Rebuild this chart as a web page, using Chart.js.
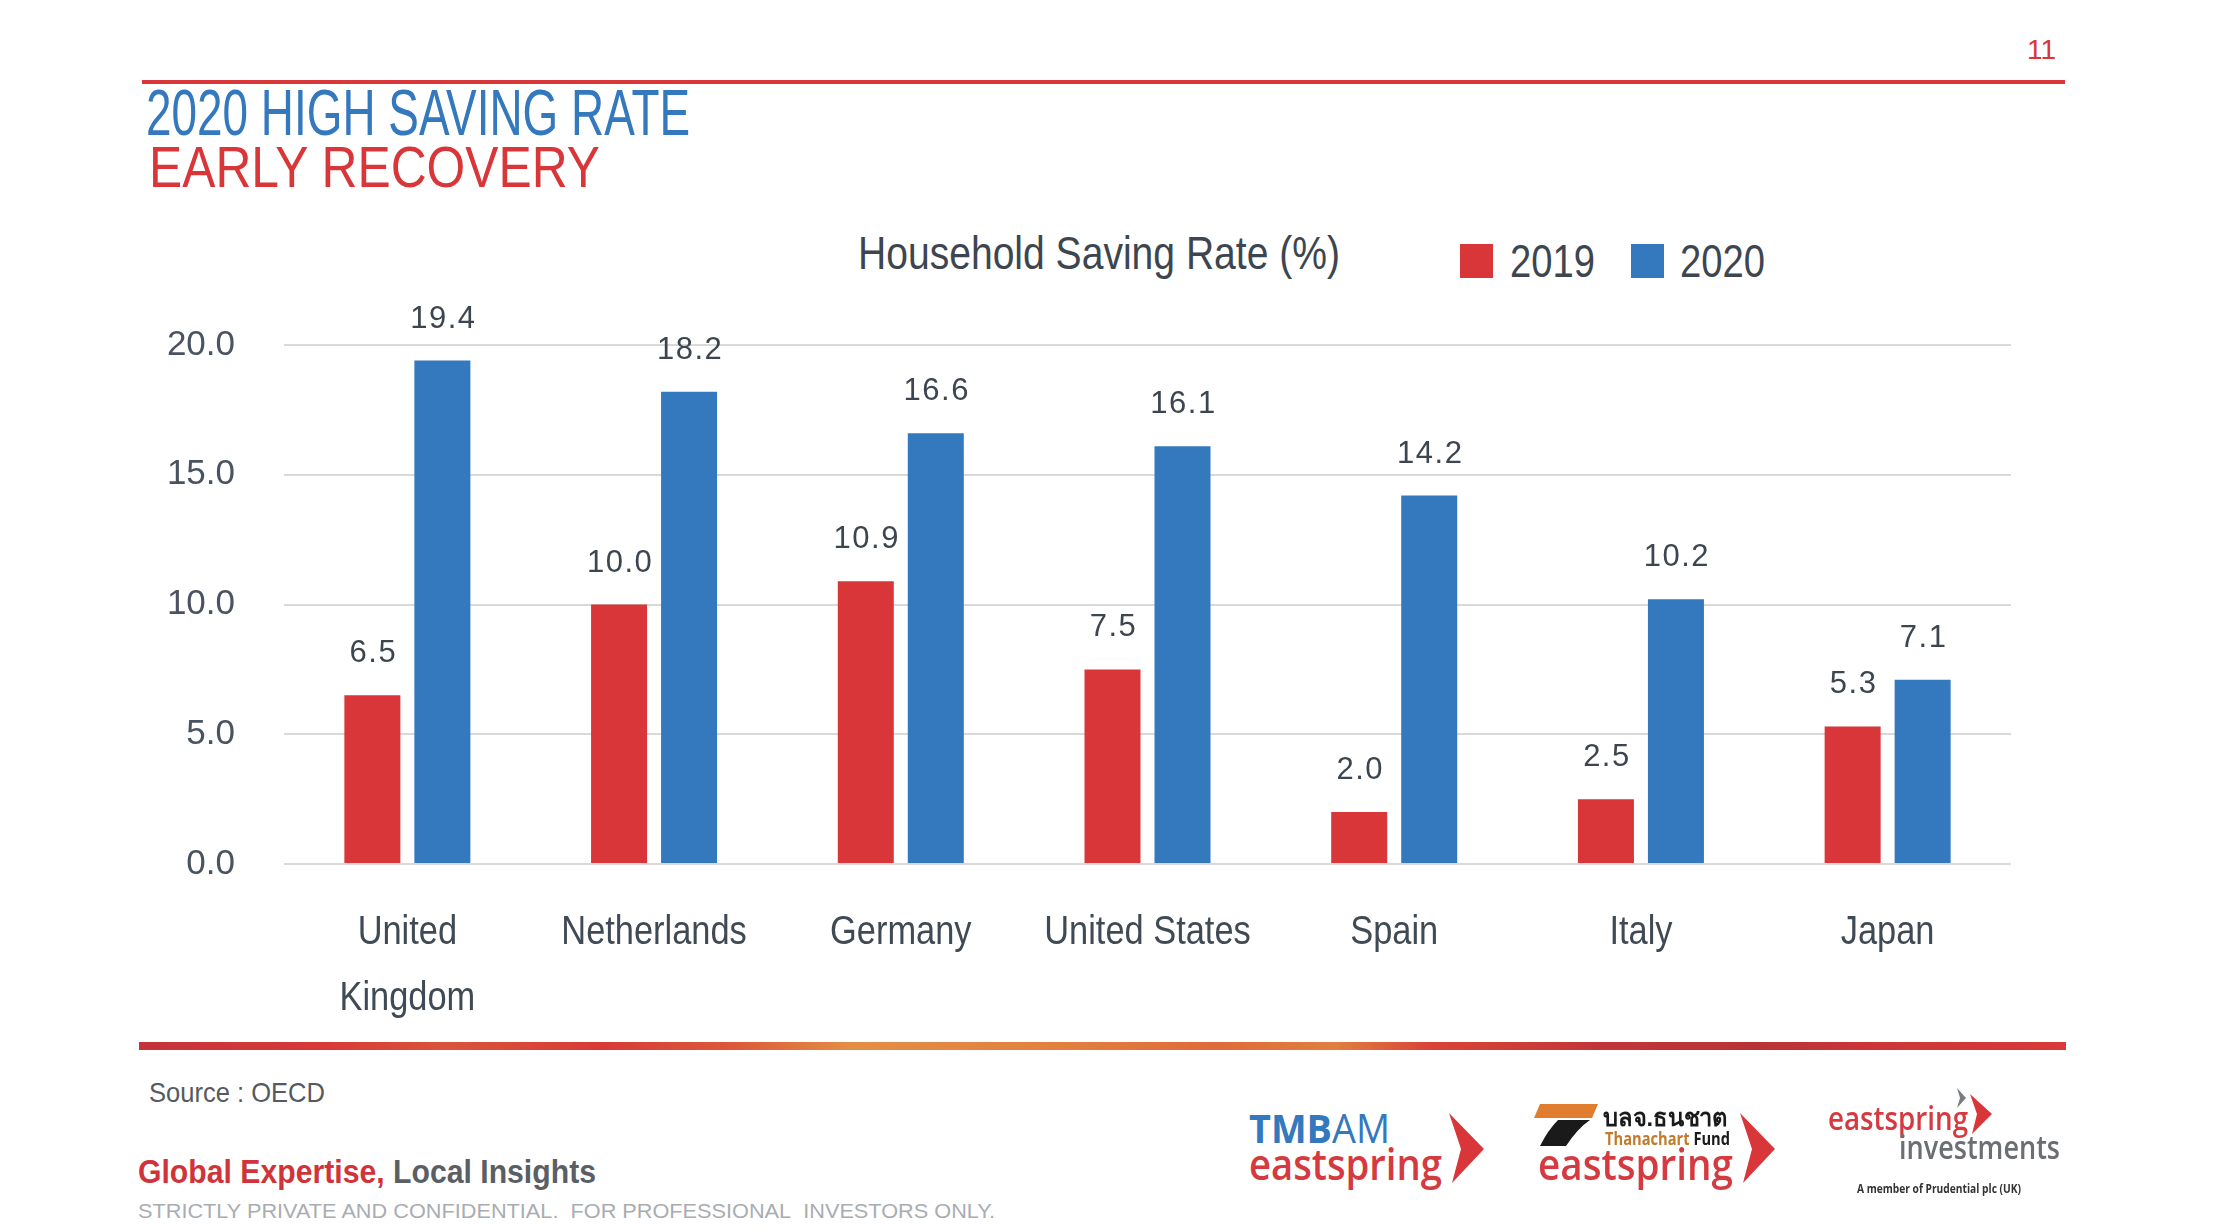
<!DOCTYPE html>
<html>
<head>
<meta charset="utf-8">
<script src="https://cdn.jsdelivr.net/npm/chart.js@4.4.1/dist/chart.umd.min.js"></script>
<style>
html, body { margin: 0; padding: 0; background: #fff; }
body { width: 2224px; height: 1228px; position: relative; overflow: hidden; font-family: "Liberation Sans", Arial, sans-serif; }
.t { position: absolute; white-space: nowrap; line-height: 1; transform-origin: 0 50%; }
.narrow { font-family: "Liberation Sans", Arial, sans-serif; }
.logo { font-family: "Open Sans", "Noto Sans", sans-serif; }
#chartBox { position: absolute; left: 130px; top: 300px; width: 1920px; height: 740px; }
.rule { position: absolute; }
#legend .sq { position: absolute; width: 33px; height: 34px; }
</style>
</head>
<body>

<div class="t" style="left:2027px;top:36px;font-size:28px;color:#d9363a;">11</div>
<div class="rule" style="left:142px;top:80px;width:1923px;height:4px;background:#d9363a;"></div>

<div class="t narrow" data-w="544" style="left:146px;top:81px;font-size:64px;color:#3478be;">2020 HIGH SAVING RATE</div>
<div class="t" data-w="451" style="left:149px;top:139px;font-size:57px;color:#d9363a;">EARLY RECOVERY</div>

<div class="t narrow" data-w="482" style="left:858px;top:229px;font-size:47px;color:#3d4650;">Household Saving Rate (%)</div>
<div id="legend"></div>

<div id="chartBox"><canvas id="savingChart"></canvas></div>

<div class="rule" style="left:139px;top:1042px;width:1927px;height:8px;background:linear-gradient(90deg,#c4333a 0%,#d93a38 10%,#d9553a 16%,#d83a37 24%,#dc5a3a 31%,#e38e45 37%,#e27f3f 48%,#df6a3a 56%,#e07f40 62%,#d94438 67%,#c23537 76%,#b83335 84%,#cc3538 90%,#d93a3a 100%);"></div>

<div class="t narrow" data-w="176" style="left:149px;top:1079px;font-size:28px;color:#555a60;">Source : OECD</div>
<div class="t narrow" data-w="458" style="left:138px;top:1154px;font-size:34px;font-weight:bold;"><span style="color:#d0343a;">Global Expertise,</span> <span style="color:#5a5f66;">Local Insights</span></div>
<div class="t narrow" data-w="857" style="left:138px;top:1200px;font-size:21px;color:#a9adb2;">STRICTLY PRIVATE AND CONFIDENTIAL.&nbsp; FOR PROFESSIONAL&nbsp; INVESTORS ONLY.</div>

<!-- logos -->
<div class="t logo" data-w="141" style="left:1249px;top:1108px;font-size:40px;color:#3478be;"><b>TMB</b>AM</div>
<div class="t logo" data-w="193" style="left:1249px;top:1141px;font-size:44px;font-weight:600;color:#d53a40;">eastspring</div>
<svg style="position:absolute;left:0;top:0;" width="2224" height="1228">
  <polygon points="1449,1113 1484,1149 1452,1183 1461,1149" fill="#d9363a"/>
  <polygon points="1740,1113 1775,1149 1743,1183 1752,1149" fill="#d9363a"/>
  <polygon points="1540,1104 1598,1104 1592,1118 1534,1118" fill="#e07d2e"/>
  <path d="M1558,1120 L1590,1120 Q1578,1128 1566,1146 L1540,1146 Q1548,1130 1558,1120 Z" fill="#1a1a1a"/>
  <polygon points="1957,1088 1966,1098 1957,1108 1960,1098" fill="#7a7d80"/>
  <polygon points="1970,1094 1992,1114 1972,1134 1977,1114" fill="#d9363a"/>
</svg>
<div class="t" data-w="125" style="left:1603px;top:1106px;font-size:24px;font-weight:bold;color:#1a1a1a;">บลจ.ธนชาต</div>
<div class="t logo" data-w="125" style="left:1605px;top:1130px;font-size:17px;font-weight:bold;"><span style="color:#c27b2c;">Thanachart</span> <span style="color:#1a1a1a;">Fund</span></div>
<div class="t logo" data-w="195" style="left:1538px;top:1141px;font-size:44px;font-weight:600;color:#d53a40;">eastspring</div>
<div class="t logo" data-w="140" style="left:1828px;top:1102px;font-size:32px;font-weight:600;color:#d53a40;">eastspring</div>
<div class="t logo" data-w="161" style="left:1899px;top:1131px;font-size:32px;font-weight:600;color:#6b6e72;">investments</div>
<div class="t logo" data-w="164" style="left:1857px;top:1183px;font-size:12px;font-weight:bold;color:#333;">A member of Prudential plc (UK)</div>

<script>
// chart data
const categories = [['United', 'Kingdom'], 'Netherlands', 'Germany', 'United States', 'Spain', 'Italy', 'Japan'];
const rate2019 = [6.5, 10.0, 10.9, 7.5, 2.0, 2.5, 5.3];
const rate2020 = [19.4, 18.2, 16.6, 16.1, 14.2, 10.2, 7.1];
const seriesNames = ['2019', '2020'];
const seriesColors = ['#d83638', '#3478bd'];
const yTicks = [0, 5, 10, 15, 20];

// Legend (html, sits beside the chart title)
const legendPos = [[1460, 1510], [1631, 1680]];
const legend = document.getElementById('legend');
seriesNames.forEach((name, i) => {
    const sq = document.createElement('div');
    sq.className = 'sq';
    sq.style.left = legendPos[i][0] + 'px';
    sq.style.top = '244px';
    sq.style.background = seriesColors[i];
    legend.appendChild(sq);
    const lab = document.createElement('div');
    lab.className = 't narrow';
    lab.dataset.w = '85';
    lab.style.cssText += `left:${legendPos[i][1]}px;top:237px;font-size:47px;color:#3d4650;`;
    lab.textContent = name;
    legend.appendChild(lab);
});

// Squeeze/stretch html texts to their measured widths
document.querySelectorAll('.t[data-w]').forEach(el => {
    const w = el.getBoundingClientRect().width;
    if (w > 0) el.style.transform = `scaleX(${(+el.dataset.w / w).toFixed(4)})`;
});

// Value labels above bars
const valueLabels = {
    id: 'valueLabels',
    afterDatasetsDraw(chart) {
        const c = chart.ctx;
        c.save();
        c.font = '31px "Liberation Sans", Arial, sans-serif';
        c.fillStyle = '#3d4650';
        c.textAlign = 'center';
        c.textBaseline = 'alphabetic';
        c.letterSpacing = '1.5px';
        chart.data.datasets.forEach((ds, i) => {
            chart.getDatasetMeta(i).data.forEach((bar, j) => {
                c.fillText(ds.data[j].toFixed(1), bar.x + 1, bar.y - 33);
            });
        });
        c.restore();
    }
};

// Condensed category labels, placed at the x scale's tick pixels
const categoryLabels = {
    id: 'categoryLabels',
    afterDraw(chart) {
        const x = chart.scales.x;
        const c = chart.ctx;
        c.save();
        c.font = '40px "Liberation Sans", Arial, sans-serif';
        c.fillStyle = '#404a55';
        c.textAlign = 'center';
        c.textBaseline = 'middle';
        categories.forEach((cat, i) => {
            const px = x.getPixelForTick(i);
            [].concat(cat).forEach((line, k) => {
                c.save();
                c.translate(px, x.top + 69 + k * 66);
                c.scale(0.86, 1);
                c.fillText(line, 0, 0);
                c.restore();
            });
        });
        c.restore();
    }
};

const ctx = document.getElementById('savingChart').getContext('2d');
new Chart(ctx, {
    type: 'bar',
    data: {
        labels: categories,
        datasets: [
            { label: seriesNames[0], data: rate2019, backgroundColor: seriesColors[0] },
            { label: seriesNames[1], data: rate2020, backgroundColor: seriesColors[1] }
        ]
    },
    options: {
        responsive: true,
        maintainAspectRatio: false,
        animation: false,
        categoryPercentage: 0.5675,
        barPercentage: 0.8,
        layout: { padding: { top: 45, right: 39, left: 0, bottom: 0 } },
        plugins: { legend: { display: false }, tooltip: { enabled: false } },
        scales: {
            x: {
                grid: { display: false },
                border: { display: false },
                afterFit: scale => { scale.height = 176; },
                ticks: { display: false }
            },
            y: {
                min: 0,
                max: 20,
                afterFit: scale => {
                    scale.width = 154;
                    scale.paddingTop = 0;
                    scale.paddingBottom = 0;
                },
                afterBuildTicks: scale => { scale.ticks = yTicks.map(v => ({ value: v })); },
                grid: { color: '#d9d9d9', lineWidth: 2, drawTicks: false },
                border: { display: false },
                ticks: {
                    color: '#4a5360',
                    padding: 49,
                    font: { family: '"Liberation Sans", Arial, sans-serif', size: 35 },
                    callback: v => v.toFixed(1)
                }
            }
        }
    },
    plugins: [valueLabels, categoryLabels]
});
</script>
</body>
</html>
